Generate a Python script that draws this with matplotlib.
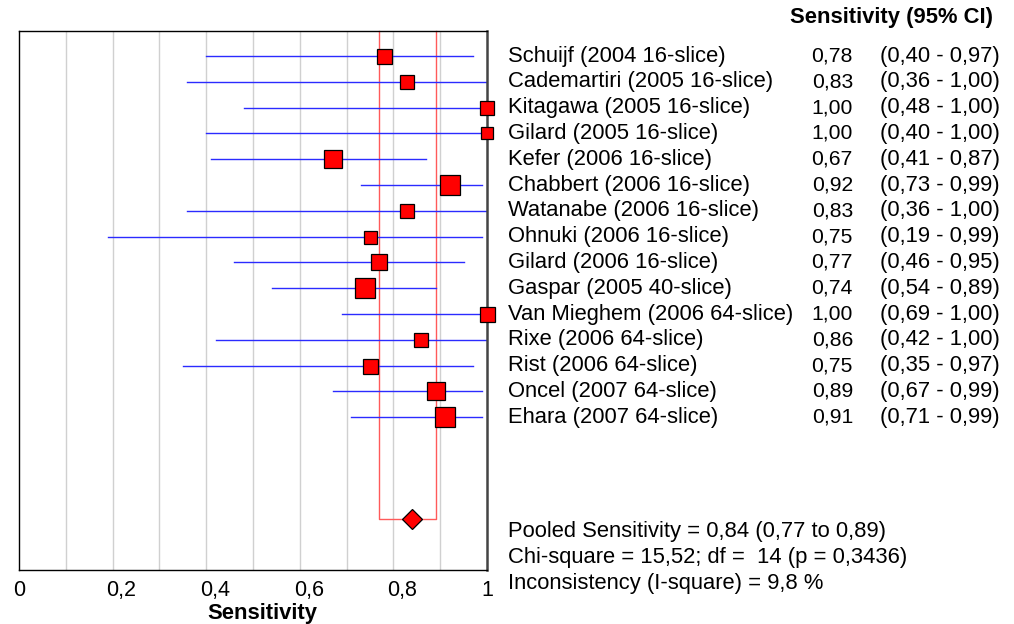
import matplotlib
matplotlib.use("Agg")
import matplotlib.pyplot as plt
import matplotlib.transforms as mtransforms

plt.rcParams['font.family'] = ['Liberation Sans', 'DejaVu Sans']

studies = ["Schuijf (2004 16-slice)", "Cademartiri (2005 16-slice)", "Kitagawa (2005 16-slice)",
           "Gilard (2005 16-slice)", "Kefer (2006 16-slice)", "Chabbert (2006 16-slice)",
           "Watanabe (2006 16-slice)", "Ohnuki (2006 16-slice)", "Gilard (2006 16-slice)",
           "Gaspar (2005 40-slice)", "Van Mieghem (2006 64-slice)", "Rixe (2006 64-slice)",
           "Rist (2006 64-slice)", "Oncel (2007 64-slice)", "Ehara (2007 64-slice)"]
sens = [0.78, 0.83, 1.00, 1.00, 0.67, 0.92, 0.83, 0.75, 0.77, 0.74, 1.00, 0.86, 0.75, 0.89, 0.91]
ci_low = [0.40, 0.36, 0.48, 0.40, 0.41, 0.73, 0.36, 0.19, 0.46, 0.54, 0.69, 0.42, 0.35, 0.67, 0.71]
ci_high = [0.97, 1.00, 1.00, 1.00, 0.87, 0.99, 1.00, 0.99, 0.95, 0.89, 1.00, 1.00, 0.97, 0.99, 0.99]
weights_px = [15, 13.7, 13.7, 12.3, 18.3, 20.7, 13.7, 13, 16.7, 20.3, 15, 14.3, 15, 18.3, 19.3]
pooled = 0.84
pooled_low = 0.77
pooled_high = 0.89
xticks = [0, 0.2, 0.4, 0.6, 0.8, 1.0]
xticklabels = ["0", "0,2", "0,4", "0,6", "0,8", "1"]
stats_lines = ["Pooled Sensitivity = 0,84 (0,77 to 0,89)",
               "Chi-square = 15,52; df =  14 (p = 0,3436)",
               "Inconsistency (I-square) = 9,8 %"]

FS = 15.8

def fmt(v):
    return f"{v:.2f}".replace(".", ",")

fig = plt.figure(figsize=(10.14, 6.24), dpi=100)
ax = fig.add_axes([19/1014, 1-570/624, 468/1014, 539/624])
ax.set_xlim(0, 1)
ax.set_ylim(19.92, -0.97)
pooled_y = 17.95

# grid
for g in [i/10 for i in range(1, 10)]:
    ax.axvline(g, color='#d0d0d0', lw=1, zorder=0)

# pooled CI rectangle
ax.plot([pooled_low, pooled_low, pooled_high, pooled_high],
        [-0.97, pooled_y, pooled_y, -0.97], color='#ff5a5a', lw=1, zorder=1, clip_on=False)

n = len(studies)
for i in range(n):
    ax.plot([ci_low[i], ci_high[i]], [i, i], color='#2b2bff', lw=1, zorder=2)
    ax.plot(sens[i], i, marker='s', markersize=weights_px[i]*0.72, markerfacecolor='red',
            markeredgecolor='black', markeredgewidth=0.9, zorder=3, clip_on=False)

ax.plot(pooled, pooled_y, marker='D', markersize=9.7, markerfacecolor='red',
        markeredgecolor='black', markeredgewidth=0.9, zorder=3)

for s in ['left', 'top', 'bottom']:
    ax.spines[s].set_color('black')
    ax.spines[s].set_linewidth(1)
ax.spines['right'].set_color('#444444')
ax.spines['right'].set_linewidth(1.8)

ax.set_yticks([])
ax.set_xticks(xticks)
ax.set_xticklabels(xticklabels, fontsize=15.5)
ax.tick_params(axis='x', length=0, pad=7)
shift = mtransforms.ScaledTranslation(-6/100, 0, fig.dpi_scale_trans)
for lbl in ax.get_xticklabels():
    lbl.set_ha('left')
    lbl.set_transform(lbl.get_transform() + shift)

fig.text(262.5/1014, 1-619/624, "Sensitivity", fontsize=FS, fontweight='bold',
         ha='center', va='baseline')

tr = mtransforms.blended_transform_factory(fig.transFigure, ax.transData)
for i in range(n):
    fig.text(508/1014, i, studies[i], transform=tr, fontsize=FS, va='center', ha='left')
    fig.text(853/1014, i, fmt(sens[i]), transform=tr, fontsize=15.2, va='center', ha='right')
    fig.text(1000/1014, i, f"({fmt(ci_low[i])} - {fmt(ci_high[i])})", transform=tr,
             fontsize=FS, va='center', ha='right')

fig.text(993/1014, 1-18/624, "Sensitivity (95% CI)", fontsize=FS, fontweight='bold',
         ha='right', va='center')
for yy, line in zip([531, 557, 583], stats_lines):
    fig.text(508/1014, 1-yy/624, line, fontsize=FS, ha='left', va='center')

fig.savefig("out.png", dpi=100)
